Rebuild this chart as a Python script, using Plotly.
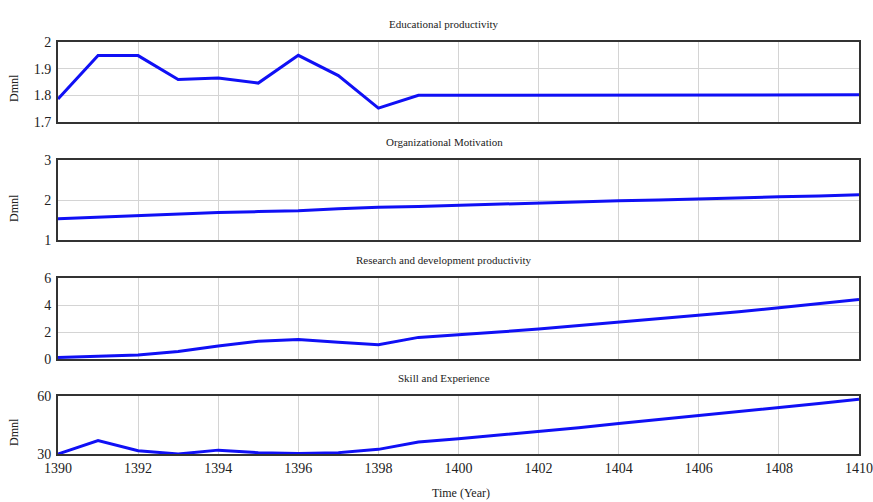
import plotly.graph_objects as go

years = list(range(1390, 1411))
educational = [1.786, 1.949, 1.949, 1.859, 1.865, 1.846, 1.950, 1.874, 1.752, 1.800, 1.800,
               1.800, 1.800, 1.800, 1.800, 1.800, 1.800, 1.802, 1.802, 1.802, 1.802]
motivation = [1.53, 1.57, 1.61, 1.64, 1.69, 1.71, 1.73, 1.78, 1.82, 1.84, 1.87,
              1.90, 1.93, 1.96, 1.98, 2.00, 2.03, 2.06, 2.08, 2.10, 2.13]
research = [0.12, 0.22, 0.30, 0.55, 0.97, 1.32, 1.45, 1.24, 1.05, 1.60, 1.78,
            2.00, 2.22, 2.47, 2.72, 2.97, 3.22, 3.50, 3.80, 4.10, 4.40]
skill = [30.0, 37.0, 31.7, 30.0, 32.0, 30.7, 30.3, 30.7, 32.4, 36.2, 37.9,
         39.7, 41.5, 43.6, 45.8, 47.8, 49.9, 51.9, 54.0, 56.1, 58.3]

titles = ["Educational productivity", "Organizational Motivation",
          "Research and development productivity", "Skill and Experience"]
series = [educational, motivation, research, skill]
y_ranges = [[1.7, 2.0], [1, 3], [0, 6], [30, 60]]
y_ticks = [[1.7, 1.8, 1.9, 2], [1, 2, 3], [0, 2, 4, 6], [30, 60]]
y_ticktext = [["1.7", "1.8", "1.9", "2"], ["1", "2", "3"], ["0", "2", "4", "6"], ["30", "60"]]
show_unit = [True, True, False, True]
x_ticks = list(range(1390, 1411, 2))

W, H = 873, 502
PL, PR = 58, 859
PW = PR - PL
panels_px = [(42, 122), (160, 240), (278, 359), (396, 454)]
title_px = [24, 142, 260, 378]
unit_px = [88, 208, None, 432]

FONT = "Liberation Serif, Times New Roman, serif"
fig = go.Figure()
layout = dict(
    width=W, height=H,
    margin=dict(l=PL, r=W - PR, t=0, b=0, autoexpand=False),
    paper_bgcolor="white", plot_bgcolor="white",
    showlegend=False,
    font=dict(family=FONT, size=12, color="#222"),
)
annotations = []
for i in range(4):
    ax = "" if i == 0 else str(i + 1)
    fig.add_trace(go.Scatter(x=years, y=series[i], mode="lines",
                             line=dict(color="#1010f5", width=3),
                             xaxis="x" + ax, yaxis="y" + ax, hoverinfo="skip"))
    top, bot = panels_px[i]
    layout["xaxis" + ax] = dict(
        domain=[0, 1], range=[1390, 1410], anchor="y" + ax,
        tickvals=x_ticks, ticktext=[str(v) for v in x_ticks],
        showticklabels=(i == 3), ticks="", showgrid=True,
        gridcolor="#d4d4d4", gridwidth=1,
        showline=True, mirror=True, linecolor="#333", linewidth=2,
        zeroline=False, automargin=False, ticklabeloverflow="allow",
        tickfont=dict(family=FONT, size=14, color="#222"),
    )
    layout["yaxis" + ax] = dict(
        domain=[1 - bot / H, 1 - top / H], range=y_ranges[i], anchor="x" + ax,
        tickvals=y_ticks[i], ticktext=y_ticktext[i], ticks="",
        showgrid=True, gridcolor="#d4d4d4", gridwidth=1,
        showline=True, mirror=True, linecolor="#333", linewidth=2,
        zeroline=False, automargin=False, ticklabelstandoff=2,
        ticklabeloverflow="allow",
        tickfont=dict(family=FONT, size=14, color="#222"),
    )
    annotations.append(dict(text=titles[i], xref="paper", yref="paper",
                            x=(444 - PL) / PW, y=1 - title_px[i] / H,
                            xanchor="center", yanchor="middle", showarrow=False,
                            font=dict(family=FONT, size=11, color="#222")))
    if show_unit[i]:
        annotations.append(dict(text="Dmnl", xref="paper", yref="paper",
                                x=(14 - PL) / PW, y=1 - unit_px[i] / H,
                                xanchor="center", yanchor="middle", showarrow=False,
                                textangle=-90,
                                font=dict(family=FONT, size=12, color="#222")))

annotations.append(dict(text="Time (Year)", xref="paper", yref="paper",
                        x=(461 - PL) / PW, y=1 - 493 / H,
                        xanchor="center", yanchor="middle", showarrow=False,
                        font=dict(family=FONT, size=12, color="#222")))
layout["annotations"] = annotations
fig.update_layout(**layout)
fig.write_html(
    "out.html",
    config={"displayModeBar": False},
    post_script=("document.documentElement.style.margin='0';"
                 "document.body.style.margin='0';"
                 "document.body.style.overflow='hidden';"
                 "document.documentElement.style.overflow='hidden';"),
)
